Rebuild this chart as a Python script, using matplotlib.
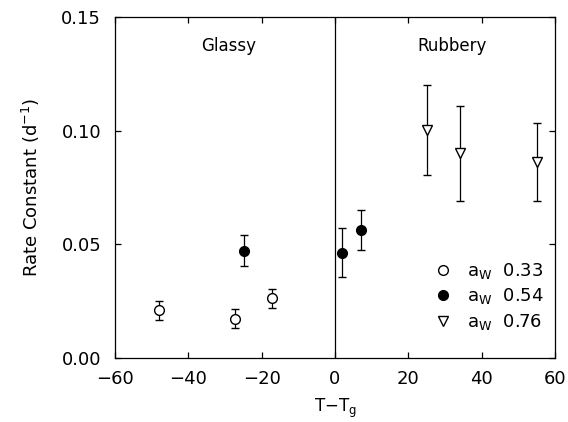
import matplotlib.pyplot as plt
from matplotlib.lines import Line2D

# a_w = 0.33 (open circles)
x_033 = [-48, -27.3, -17.1]
y_033 = [0.021, 0.0173, 0.0263]
e_033 = [0.0042, 0.0041, 0.0042]

# a_w = 0.54 (filled circles)
x_054 = [-24.9, 2.0, 7.0]
y_054 = [0.0471, 0.0463, 0.0562]
e_054 = [0.0069, 0.0107, 0.0088]

# a_w = 0.76 (open down triangles)
x_076 = [25.0, 34.0, 55.0]
y_076 = [0.1003, 0.090, 0.0861]
e_076 = [0.0197, 0.0208, 0.017]

labels = ['0.33', '0.54', '0.76']

plt.rcParams['font.family'] = 'DejaVu Sans'
fig = plt.figure(figsize=(5.68, 4.22), dpi=100)
ax = fig.add_axes([0.2025, 0.152, 0.7745, 0.808])

ekw = dict(ecolor='black', elinewidth=0.9, capsize=3, capthick=0.9, linestyle='none')
ax.errorbar(x_033, y_033, yerr=e_033, marker='o', ms=7, mfc='white', mec='black', mew=1.0, **ekw)
ax.errorbar(x_054, y_054, yerr=e_054, marker='o', ms=7, mfc='black', mec='black', mew=1.0, **ekw)
ax.errorbar(x_076, y_076, yerr=e_076, marker='v', ms=7, mfc='white', mec='black', mew=1.0, **ekw)

ax.axvline(0, color='black', lw=0.9)

ax.set_xlim(-60, 60)
ax.set_ylim(0, 0.15)
ax.set_xticks([-60, -40, -20, 0, 20, 40, 60])
ax.set_yticks([0.0, 0.05, 0.10, 0.15])
ax.set_yticklabels(['0.00', '0.05', '0.10', '0.15'])
ax.tick_params(direction='in', top=True, right=True, length=4, width=0.9, labelsize=13)
ax.tick_params(axis='y', pad=10)
ax.tick_params(axis='x', pad=9)
for s in ax.spines.values():
    s.set_linewidth(0.9)

ax.set_xlabel(r'T$-$T$_\mathregular{g}$', fontsize=12, labelpad=6)
ax.set_ylabel(r'Rate Constant (d$^{-1}$)', fontsize=13, labelpad=14)

ax.text(-29, 0.137, 'Glassy', fontsize=12, ha='center', va='center')
ax.text(32, 0.137, 'Rubbery', fontsize=12, ha='center', va='center')

handles = [
    Line2D([], [], marker='o', ms=7, mfc='white', mec='black', ls='none'),
    Line2D([], [], marker='o', ms=7, mfc='black', mec='black', ls='none'),
    Line2D([], [], marker='v', ms=7, mfc='white', mec='black', ls='none'),
]
ax.legend(handles, [r'a$_\mathregular{W}$  ' + l for l in labels], loc='lower right',
          frameon=False, fontsize=13, handletextpad=0.3, labelspacing=0.3,
          borderaxespad=0, bbox_to_anchor=(0.99, 0.055))

fig.savefig('out.png', dpi=100)
